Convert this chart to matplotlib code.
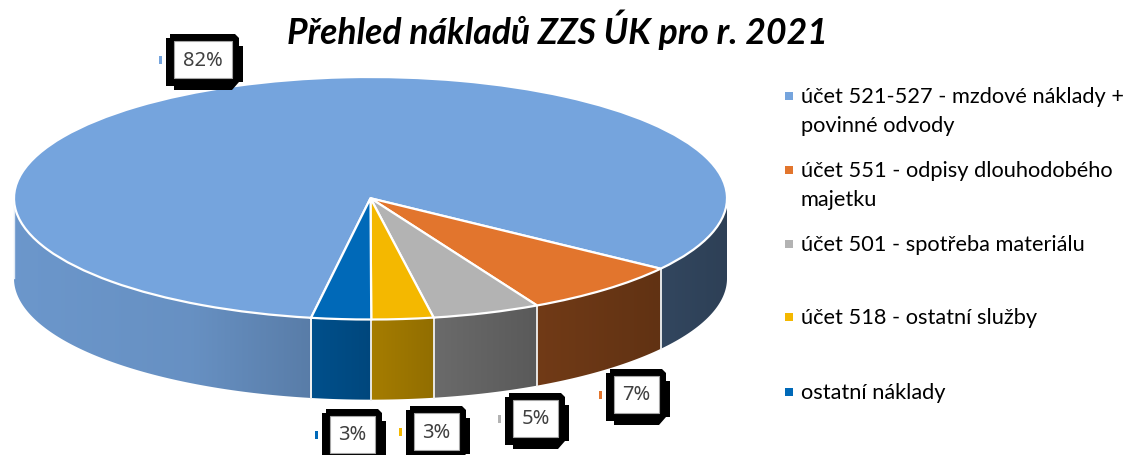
import matplotlib
matplotlib.use("Agg")
import matplotlib.pyplot as plt
import numpy as np
from matplotlib.patches import Polygon

# chart data
title = "Přehled nákladů ZZS ÚK pro r. 2021"
shares = [82.2, 7.4, 4.9, 2.8, 2.7]
share_labels = ["82%", "7%", "5%", "3%", "3%"]
legend_lines = [
    ["účet 521-527 - mzdové náklady +", "povinné odvody"],
    ["účet 551 - odpisy dlouhodobého", "majetku"],
    ["účet 501 - spotřeba materiálu"],
    ["účet 518 - ostatní služby"],
    ["ostatní náklady"],
]

# styling and layout, in picture pixels
colors = ["#75A4DD", "#E2752D", "#B3B3B3", "#F4B800", "#0069B8"]
W, H = 1124, 455
start_angle = 260.4
depth = 80 / 121
box_left = [174, 614, 513, 414, 330]
box_top = [41, 376, 400, 413, 416]
box_width = [58, 45, 45, 45, 45]
legend_y = [96, 170, 244, 317, 392]
line_gap = 29

# how much the side wall darkens from left to right
shade_x = [-1.0, -0.5, -0.17, 0.0, 0.17, 0.47, 0.81, 1.0]
shade_v = [0.92, 0.88, 0.76, 0.68, 0.60, 0.50, 0.43, 0.39]

fig = plt.figure(figsize=(W / 100, H / 100), dpi=100)

# pie axes: the unit circle is squashed onto the ellipse
ax = fig.add_axes([14 / W, (H - 319.5) / H, 713 / W, 242.5 / H])
wedges, _ = ax.pie(shares, colors=colors, startangle=start_angle, counterclock=False,
                   radius=1, wedgeprops=dict(edgecolor="white", linewidth=1.6))
for w in wedges:
    w.set_zorder(5)
    w.set_clip_on(False)

# slice edges in degrees, clockwise from the start angle
edges = start_angle - np.cumsum([0] + shares) * 3.6


def slice_at(a):
    for i in range(len(shares)):
        for turn in (-360, 0, 360):
            if edges[i + 1] <= a + turn <= edges[i]:
                return i
    return 0


# side wall: one gradient row, clipped to the band under the front of the ellipse
xs = np.linspace(-1, 1, 1400)
angles = -np.degrees(np.arccos(xs))
grad = np.zeros((1, len(xs), 3))
for k, (x, a) in enumerate(zip(xs, angles)):
    grad[0, k] = np.array(matplotlib.colors.to_rgb(colors[slice_at(a)])) * np.interp(x, shade_x, shade_v)

t = np.radians(np.linspace(-180, 0, 400))
band = np.r_[np.c_[np.cos(t), np.sin(t)], np.c_[np.cos(t[::-1]), np.sin(t[::-1]) - depth]]
band_patch = Polygon(band, closed=True, facecolor="none", edgecolor="none", transform=ax.transData)
ax.add_patch(band_patch)
band_patch.set_clip_on(False)
wall = ax.imshow(grad, extent=(-1, 1, -1 - depth, 0), aspect="auto", interpolation="nearest", zorder=2)
wall.set_clip_path(band_patch)
wall.set_clip_box(fig.bbox)

ax.set_aspect("auto")
ax.set_xlim(-1, 1)
ax.set_ylim(-1, 1)

# white seams between the slices on the wall
for e in edges:
    a = (e + 180) % 360 - 180
    if -180 < a < 0:
        r = np.radians(a)
        ax.plot([np.cos(r)] * 2, [np.sin(r), np.sin(r) - depth], color="#F2F2F2", lw=1.3,
                zorder=3, clip_on=False)
ax.plot([-1, -1], [0, -depth], color="#E4ECF6", lw=1, zorder=3, clip_on=False)

# overlay in pixel coordinates for the texts and label boxes
ov = fig.add_axes([0, 0, 1, 1], zorder=10)
ov.set_xlim(0, W)
ov.set_ylim(H, 0)
ov.axis("off")
ov.patch.set_alpha(0)

ov.text(557, 30, title, fontsize=25.6, family="Lato", weight="bold", style="italic",
        ha="center", va="center", color="black")


def label_box(left, top, width, text, color):
    right, bottom = left + width, top + 37
    # blocky black frame, it has stepped corners and a heavier lower right
    frame = [(left - 4, top - 7), (right + 3, top - 7), (right + 7, top - 3), (right + 7, top + 5),
             (right + 11, top + 5), (right + 11, bottom + 4), (right + 7, bottom + 4),
             (right, bottom + 12), (left, bottom + 12), (left, bottom + 8), (left - 8, bottom + 8),
             (left - 8, top - 3), (left - 4, top - 3)]
    ov.add_patch(Polygon(frame, closed=True, facecolor="black", edgecolor="none", zorder=6,
                         clip_on=True))
    ov.add_patch(plt.Rectangle((left, top), width, 37, facecolor="white", edgecolor="#A6A6A6",
                               linewidth=0.8, zorder=7))
    ov.text(left + width / 2, top + 19.5, text, fontsize=14.5, family="Noto Sans", color="#404040",
            ha="center", va="center", zorder=8)
    ov.add_patch(plt.Rectangle((left - 15, top + 15), 3, 8, facecolor=color, edgecolor="none",
                               zorder=8))


for i in range(len(shares)):
    label_box(box_left[i], box_top[i], box_width[i], share_labels[i], colors[i])

# legend
for i, lines in enumerate(legend_lines):
    ov.add_patch(plt.Rectangle((785, legend_y[i] - 4), 8, 8, facecolor=colors[i], edgecolor="none"))
    for j, line in enumerate(lines):
        ov.text(801, legend_y[i] + 1 + j * line_gap, line, fontsize=15.7, family="Lato", color="black",
                ha="left", va="center")

fig.savefig("out.png", dpi=100)
